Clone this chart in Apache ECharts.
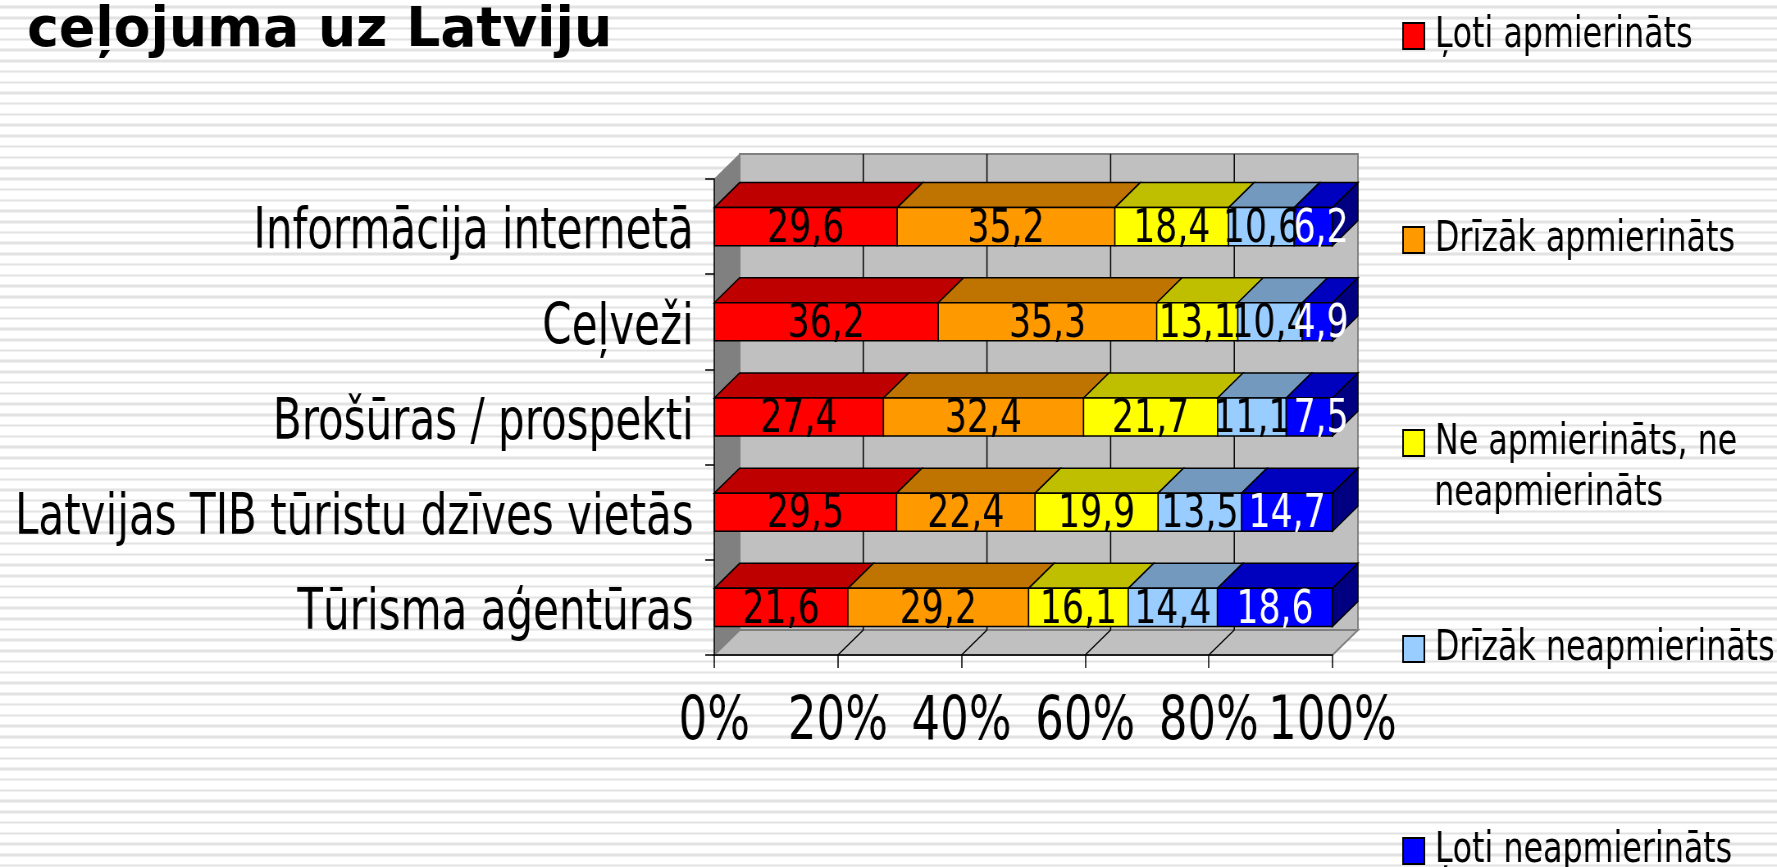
<!DOCTYPE html>
<html lang="lv">
<head>
<meta charset="utf-8">
<title>ceļojuma uz Latviju</title>
<style>
html, body { margin: 0; padding: 0; width: 100%; height: 100%; overflow: hidden; background-color: #fff; }
body {
  background-image: repeating-linear-gradient(180deg,
    #fff 0, #fff 5.4px, #f0f0f0 5.4px, #f0f0f0 6.4px, #e2e2e2 6.4px, #e2e2e2 7.9px,
    #f0f0f0 7.9px, #f0f0f0 8.9px, #fff 8.9px, #fff 10.73px);
}
/* the slide picture is squeezed sideways, text and marks alike */
#main { width: 2167px; height: 867px; transform: scaleX(0.82); transform-origin: 0 0; }
</style>
</head>
<body>
<div id="main"></div>
<script src="https://cdn.jsdelivr.net/npm/echarts@6/dist/echarts.min.js"></script>
<script>
var title = 'ceļojuma uz Latviju';
var categories = ['Informācija internetā', 'Ceļveži', 'Brošūras / prospekti', 'Latvijas TIB tūristu dzīves vietās', 'Tūrisma aģentūras'];
var names = ['Ļoti apmierināts', 'Drīzāk apmierināts', 'Ne apmierināts, ne neapmierināts', 'Drīzāk neapmierināts', 'Ļoti neapmierināts'];
var veryPleased = [29.6, 36.2, 27.4, 29.5, 21.6];
var ratherPleased = [35.2, 35.3, 32.4, 22.4, 29.2];
var neutral = [18.4, 13.1, 21.7, 19.9, 16.1];
var ratherNot = [10.6, 10.4, 11.1, 13.5, 14.4];
var veryNot = [6.2, 4.9, 7.5, 14.7, 18.6];
var allValues = [veryPleased, ratherPleased, neutral, ratherNot, veryNot];
var xTicks = [0, 20, 40, 60, 80, 100];

var front = ['#ff0000', '#ff9900', '#ffff00', '#99ccff', '#0000ff'];
var top3d = ['#bf0000', '#bf7300', '#bfbf00', '#7399bf', '#0000bf'];
var side3d = ['#800000', '#804d00', '#808000', '#4d6680', '#000080'];
var labelColor = ['#000', '#000', '#000', '#000', '#fff'];
var legendMid = [31, 235, 438, 644, 846];

var DX = 31, DY = 25;
var FONT = '"DejaVu Sans Condensed", "DejaVu Sans", sans-serif';

// 100% stacked: each row is scaled to its own total
function stackFor(s) {
  return categories.map(function (c, i) {
    var total = 0, before = 0;
    allValues.forEach(function (v, k) {
      total += v[i];
      if (k < s) before += v[i];
    });
    var start = before / total * 100;
    return [start, start + allValues[s][i] / total * 100, i, allValues[s][i]];
  });
}

function poly(points, fill, stroke, lw) {
  return { type: 'polygon', shape: { points: points }, style: { fill: fill, stroke: stroke, lineWidth: lw } };
}

function renderWalls(params, api) {
  var r = params.coordSys;
  var l = r.x, t = r.y, b = r.y + r.height, w = r.width;
  var kids = [
    poly([[l + DX, t - DY], [l + w + DX, t - DY], [l + w + DX, b - DY], [l + DX, b - DY]], '#c0c0c0', '#808080', 2),
    poly([[l, t], [l + DX, t - DY], [l + DX, b - DY], [l, b]], '#808080', '#808080', 1),
    poly([[l, b], [l + DX, b - DY], [l + w + DX, b - DY], [l + w, b]], '#c0c0c0', '#808080', 2)
  ];
  xTicks.forEach(function (v, i) {
    if (i === 0 || i === xTicks.length - 1) return;
    var x = api.coord([v, 0])[0];
    kids.push({ type: 'line', shape: { x1: x + DX, y1: t - DY, x2: x + DX, y2: b - DY }, style: { stroke: '#000', lineWidth: 1.5 } });
    kids.push({ type: 'line', shape: { x1: x, y1: b, x2: x + DX, y2: b - DY }, style: { stroke: '#000', lineWidth: 1.5 } });
  });
  return { type: 'group', children: kids };
}

function makeRender(s) {
  return function (params, api) {
    var a = api.coord([api.value(0), api.value(2)]);
    var e = api.coord([api.value(1), api.value(2)]);
    var h = api.size([0, 1])[1] * 0.4;
    var y0 = a[1] - h / 2, y1 = a[1] + h / 2;
    var x0 = a[0], x1 = e[0];
    var kids = [
      poly([[x0, y0], [x0 + DX, y0 - DY], [x1 + DX, y0 - DY], [x1, y0]], top3d[s], '#000', 1.5),
      poly([[x0, y0], [x1, y0], [x1, y1], [x0, y1]], front[s], '#000', 1.5)
    ];
    if (s === allValues.length - 1) {
      kids.push(poly([[x1, y0], [x1 + DX, y0 - DY], [x1 + DX, y1 - DY], [x1, y1]], side3d[s], '#000', 1.5));
    }
    // narrow end segments have their label pushed right, over the side face
    var mid = (x0 + x1) / 2;
    if (s === allValues.length - 1 && api.value(3) < 10) mid = x1 - 14;
    kids.push({
      type: 'text', z2: 100,
      style: {
        text: String(api.value(3).toFixed(1)).replace('.', ','),
        x: mid, y: (y0 + y1) / 2 + 3,
        align: 'center', verticalAlign: 'middle',
        fill: labelColor[s], font: '47px ' + FONT
      }
    });
    return { type: 'group', children: kids };
  };
}

var series = [{
  type: 'custom', name: 'walls', silent: true, z: 1,
  data: [[0, 0]], encode: { x: 0, y: 1 },
  renderItem: renderWalls
}];
names.forEach(function (n, s) {
  series.push({
    type: 'custom', name: n, z: 3,
    itemStyle: { color: front[s] },
    encode: { x: [0, 1], y: 2 },
    data: stackFor(s),
    renderItem: makeRender(s)
  });
});

var legends = names.map(function (n, s) {
  return {
    data: [n], orient: 'vertical', left: 1710, top: legendMid[s] - 23, padding: 0,
    icon: 'rect', itemWidth: 26, itemHeight: 26, selectedMode: false,
    itemStyle: { borderColor: '#000', borderWidth: 2 },
    // second line of the long name is placed separately, the box stays on the first line
    formatter: function (name) { return name.replace(/, ne neapm.*/, ', ne'); },
    textStyle: { fontFamily: FONT, fontSize: 43, lineHeight: 46, color: '#000', padding: [10, 0, 0, 8] }
  };
});

var chart = echarts.init(document.getElementById('main'));
chart.setOption({
  animation: false,
  backgroundColor: 'transparent',
  grid: { left: 871, top: 179, width: 754, height: 476, outerBoundsMode: 'none' },
  xAxis: {
    type: 'value', min: 0, max: 100, interval: 20, z: 10,
    splitLine: { show: false },
    axisLine: { show: true, lineStyle: { color: '#000', width: 1.5 } },
    axisTick: { show: true, length: 13, lineStyle: { color: '#000', width: 1.5 } },
    axisLabel: { formatter: '{value}%', fontFamily: FONT, fontSize: 61, color: '#000', margin: 38, hideOverlap: false }
  },
  yAxis: {
    type: 'category', inverse: true, data: categories, z: 10,
    axisLine: { show: true, lineStyle: { color: '#000', width: 1.5 } },
    axisTick: { show: true, length: 11, lineStyle: { color: '#000', width: 1.5 } },
    // top anchor with a small line height sits the text a little below the band centre
    axisLabel: { fontFamily: FONT, fontSize: 57, color: '#000', margin: 25, interval: 0, verticalAlign: 'top', lineHeight: 14 }
  },
  legend: legends,
  graphic: [
    { type: 'text', left: 33, top: 4, scaleX: 1.19, style: { text: title, font: 'bold 55px "DejaVu Sans"', fill: '#000' } },
    { type: 'text', left: 1749, top: 472, style: { text: 'neapmierināts', font: '43px ' + FONT, fill: '#000' } }
  ],
  series: series
});
</script>
</body>
</html>
